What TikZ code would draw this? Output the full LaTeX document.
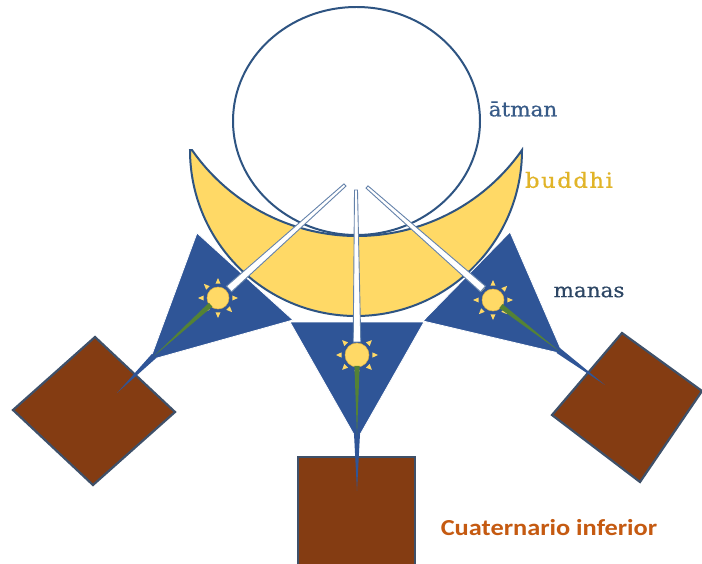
\documentclass[tikz,border=0pt]{standalone}
\usepackage{fontspec}
\usepackage{graphicx}
\usetikzlibrary{calc}
\setmainfont{DejaVu Serif}
\newfontfamily\labfont{Carlito}
\newfontfamily\semiserif[FakeBold=0.6]{DejaVu Serif}
\definecolor{lineblue}{RGB}{46,84,130}
\definecolor{crescent}{RGB}{255,217,102}
\definecolor{triblue}{RGB}{47,85,151}
\definecolor{brownq}{RGB}{132,60,18}
\definecolor{quadedge}{RGB}{62,80,105}
\definecolor{sunedge}{RGB}{225,180,70}
\definecolor{stem}{RGB}{84,130,53}
\definecolor{beamedge}{RGB}{100,130,170}
\definecolor{atmancol}{RGB}{55,90,135}
\definecolor{buddhicol}{RGB}{225,180,40}
\definecolor{manascol}{RGB}{45,70,100}
\definecolor{cuatcol}{RGB}{197,90,17}
\begin{document}
\begin{tikzpicture}[x=1bp,y=-1bp,
  quad/.style={fill=brownq,draw=quadedge,line width=2.2},
  tri/.style={fill=triblue,draw=white,line width=0.8,line join=miter},
  spike/.style={fill=triblue},
  sunray/.style={fill=crescent},
  sundisc/.style={fill=crescent,draw=sunedge,line width=0.5},
  stemline/.style={fill=stem},
  beam/.style={fill=white,draw=beamedge,line width=0.9},
  lab/.style={inner sep=0pt}]
\clip (0,0) rectangle (702,564);
\fill[white] (0,0) rectangle (702,564);
% lower quaternary squares
\filldraw[quad] (95,337) -- (175,412) -- (93,485) -- (13,410) -- cycle;
\filldraw[quad] (622,333) -- (702,391) -- (640,482) -- (552,415) -- cycle;
\filldraw[quad] (298,457) rectangle (415,580);
% atman circle
\draw[lineblue,line width=2] (356.5,121) ellipse [x radius=123.5, y radius=114];
% buddhi crescent
\filldraw[fill=crescent,draw=lineblue,line width=2,line join=miter]
  (190,150) arc[start angle=180,end angle=0,radius=166]
  arc[start angle=34.94,end angle=145.06,radius=201.3] -- cycle;
% manas triangles
\coordinate (lv) at (150,360);
\coordinate (rv) at (563,354);
\coordinate (mv) at (357,440);
\filldraw[tri] (197,233) -- (293,320) -- (lv) -- cycle;
\filldraw[tri] (510,232) -- (rv) -- (423,321) -- cycle;
\filldraw[tri] (290,322) -- (424,322) -- (mv) -- cycle;
% spikes into squares
\coordinate (lt) at (117,393);
\coordinate (rt) at (605,385);
\coordinate (mt) at (357,491);
\foreach \v/\t in {lv/lt,rv/rt,mv/mt}{
  \coordinate (b) at ($(\v)!-6pt!(\t)$);
  \fill[spike] ($(b)!3pt!90:(\t)$) -- ($(b)!3pt!-90:(\t)$) -- (\t) -- cycle;
}
% suns
\coordinate (ls) at (218,298);
\coordinate (ms) at (357,355);
\coordinate (rs) at (493,300);
\foreach \c/\r in {ls/11,ms/12,rs/11}{
  \foreach \a in {0,45,...,315}{
    \fill[sunray] ($(\c)+(\a:\r+9)$) -- ($(\c)+(\a+10:\r+3.5)$) -- ($(\c)+(\a-10:\r+3.5)$) -- cycle;
  }
  \filldraw[sundisc] (\c) circle[radius=\r];
}
% green stems
\coordinate (le) at (154,356);
\coordinate (re) at (559,351);
\coordinate (me) at (357,435);
\foreach \c/\e/\r in {ls/le/10,ms/me/11,rs/re/10}{
  \coordinate (s) at ($(\c)!\r pt!(\e)$);
  \fill[stemline] ($(s)!2.6pt!90:(\e)$) -- ($(s)!2.6pt!-90:(\e)$) -- (\e) -- cycle;
}
% beams from atman
\coordinate (a1) at (345,185);
\coordinate (b1) at (229,289);
\coordinate (a2) at (356,190);
\coordinate (b2) at (357,342);
\coordinate (a3) at (367,187);
\coordinate (b3) at (483,289);
\foreach \a/\b in {a1/b1,a2/b2,a3/b3}{
  \filldraw[beam] ($(\a)!1.5pt!90:(\b)$) -- ($(\a)!1.5pt!-90:(\b)$)
    -- ($(\b)!3.8pt!90:(\a)$) -- ($(\b)!3.8pt!-90:(\a)$) -- cycle;
}
% labels
\node[lab,text=atmancol] (atman) at (523,109) {\scalebox{1.08}[1]{\semiserif\fontsize{20}{24}\selectfont ātman}};
\node[lab,text=buddhicol] (buddhi) at (569,180) {\scalebox{1.08}[1]{\semiserif\fontsize{21}{24}\selectfont b\kern1.5pt u\kern1.5pt d\kern1.5pt d\kern1.5pt h\kern1.5pt i}};
\node[lab,text=manascol] (manas) at (589,292) {\scalebox{1.08}[1]{\semiserif\fontsize{20}{24}\selectfont manas}};
\node[lab,text=cuatcol] (cuat) at (549,528) {\scalebox{1.15}[1]{\labfont\bfseries\fontsize{23}{26}\selectfont Cuaternario inferior}};
\end{tikzpicture}
\end{document}
